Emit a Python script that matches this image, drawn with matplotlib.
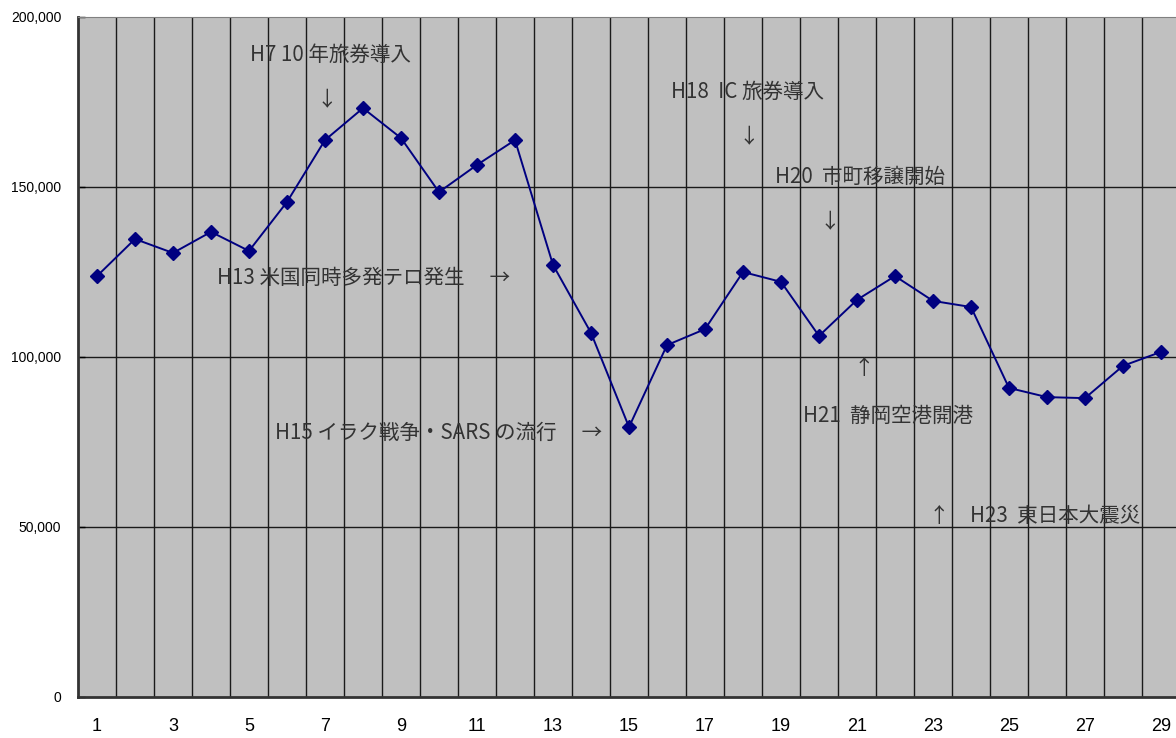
import numpy as np
import matplotlib.pyplot as plt

plt.rcParams['font.family'] = ['Noto Sans CJK JP', 'DejaVu Sans']

# data
years = np.arange(1, 30)
values = [123800, 134700, 130600, 136800, 131200, 145600, 163800, 173200, 164400,
          148500, 156500, 163800, 127100, 107100, 79400, 103500, 108200, 125000,
          122100, 106200, 116800, 123800, 116500, 114700, 90900, 88200, 87900,
          97400, 101500]
xtick_labels = [str(v) for v in range(1, 30, 2)]

notes = [
    ('H7 10 年旅券導入', 5.03, 188800),
    ('↓', 6.77, 175600),
    ('H18  IC 旅券導入', 16.1, 177900),
    ('↓', 17.87, 164700),
    ('H20  市町移譲開始', 18.84, 152900),
    ('↓', 20.02, 139700),
    ('H13 米国同時多発テロ発生　 →', 4.16, 123200),
    ('H15 イラク戦争・SARS の流行　 →', 5.68, 77600),
    ('↑', 20.9, 96800),
    ('H21  静岡空港開港', 19.58, 82600),
    ('↑　H23  東日本大震災', 22.9, 53200),
]

fig = plt.figure(figsize=(11.76, 7.38), dpi=100)
ax = fig.add_axes([78 / 1176, 41 / 738, 1102 / 1176, 680 / 738])
ax.set_facecolor('#C0C0C0')

ax.set_xlim(0.5, 29.5)
ax.set_ylim(0, 200000)

# vertical category separators
for b in np.arange(1.5, 29.5, 1):
    ax.axvline(b, color='#1a1a1a', lw=1.0, zorder=1)
for g in [50000, 100000, 150000]:
    ax.axhline(g, color='#1a1a1a', lw=1.0, zorder=1)

ax.plot(years, values, color='#000080', lw=1.4, marker='D', markersize=7,
        markerfacecolor='#000080', markeredgecolor='#000080', zorder=3)

for txt, x, y in notes:
    ax.text(x, y, txt, fontsize=14.8, color='#333333', va='center', ha='left', zorder=2)

ax.set_yticks([0, 50000, 100000, 150000, 200000])
ax.set_yticklabels(['0', '50,000', '100,000', '150,000', '200,000'], fontsize=10,
                   family=['Liberation Sans', 'DejaVu Sans'])
ax.set_xticks(list(range(1, 30, 2)))
ax.set_xticklabels(xtick_labels, fontsize=13, family=['Liberation Sans', 'DejaVu Sans'])
ax.tick_params(axis='x', length=0, pad=15)
ax.tick_params(axis='y', direction='in', length=5, width=1, pad=12)

ax.spines['left'].set_color('#333333')
ax.spines['left'].set_linewidth(2)
ax.spines['bottom'].set_color('#333333')
ax.spines['bottom'].set_linewidth(2)
ax.spines['top'].set_color('#808080')
ax.spines['right'].set_visible(False)

plt.savefig('out.png', dpi=100)
